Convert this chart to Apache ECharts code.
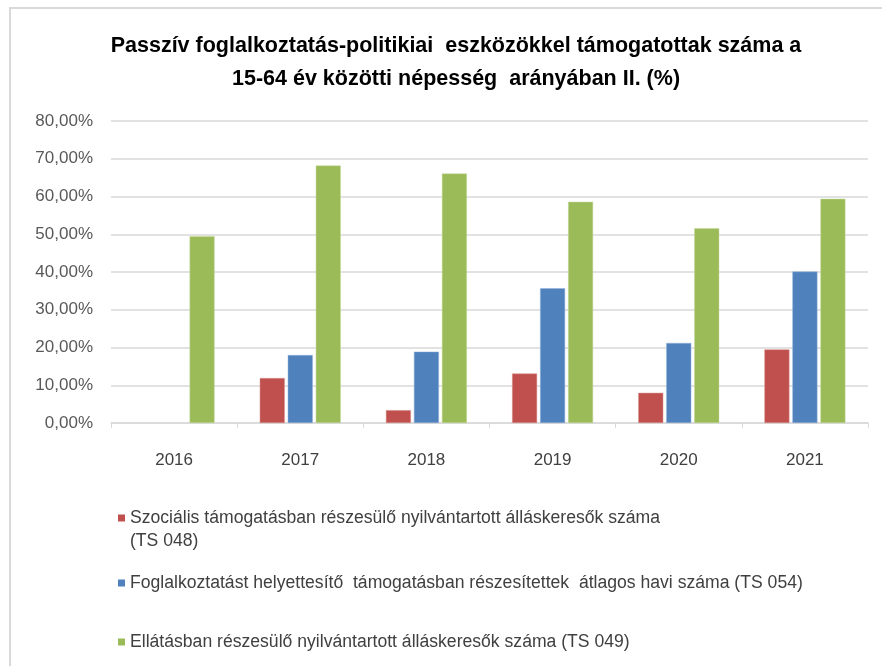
<!DOCTYPE html>
<html>
<head>
<meta charset="utf-8">
<script src="https://cdn.jsdelivr.net/npm/echarts@6/dist/echarts.min.js"></script>
<style>
  html, body { margin: 0; padding: 0; background: #fff; }
  #chart { width: 882px; height: 666px; }
</style>
</head>
<body>
<div id="chart"></div>
<script>
var years = ['2016', '2017', '2018', '2019', '2020', '2021'];
var szocialis = [null, 11.9, 3.4, 13.1, 8.0, 19.5];
var foglalkoztatast = [null, 18.0, 18.9, 35.7, 21.2, 40.1];
var ellatasban = [49.5, 68.2, 66.1, 58.6, 51.6, 59.4];

var name1 = 'Szociális támogatásban részesülő nyilvántartott álláskeresők száma (TS 048)';
var name2 = 'Foglalkoztatást helyettesítő  támogatásban részesítettek  átlagos havi száma (TS 054)';
var name3 = 'Ellátásban részesülő nyilvántartott álláskeresők száma (TS 049)';

var font = 'Liberation Sans';
var legendFont = {
    fontFamily: font,
    fontSize: 17.6,
    color: '#404040'
};

function legendOf(name, top) {
    return {
        data: [name],
        left: 118,
        top: top,
        padding: 0,
        icon: 'rect',
        itemWidth: 7,
        itemHeight: 7,
        itemGap: 0,
        selectedMode: false,
        itemStyle: { borderWidth: 0 },
        formatter: function (n) {
            // the second line "(TS 048)" is written below as its own text
            return n.replace(' (TS 048)', '');
        },
        textStyle: legendFont
    };
}

var option = {
    animation: false,
    backgroundColor: '#fff',
    title: {
        text: 'Passzív foglalkoztatás-politikiai  eszközökkel támogatottak száma a\n15-64 év közötti népesség  arányában II. (%)',
        left: 451,
        textAlign: 'center',
        top: 25,
        textStyle: {
            fontFamily: font,
            fontSize: 21.5,
            fontWeight: 'bold',
            color: '#000',
            lineHeight: 33
        }
    },
    graphic: [{
        type: 'polyline',
        shape: { points: [[10, 666], [10, 8], [882, 8]] },
        style: { stroke: '#d9d9d9', lineWidth: 2, fill: null },
        silent: true
    }, {
        type: 'text',
        left: 130,
        top: 532,
        style: {
            text: '(TS 048)',
            font: '17.6px "Liberation Sans"',
            fill: '#404040'
        },
        silent: true
    }],
    legend: [
        legendOf(name1, 509),
        legendOf(name2, 574),
        legendOf(name3, 633)
    ],
    grid: {
        left: 111,
        right: 14,
        top: 121,
        bottom: 243
    },
    xAxis: {
        type: 'category',
        data: years,
        axisLine: { lineStyle: { color: '#d9d9d9', width: 1.5 } },
        axisTick: { show: true, length: 5, lineStyle: { color: '#d9d9d9' } },
        axisLabel: {
            margin: 29,
            fontFamily: font,
            fontSize: 17,
            color: '#404040'
        }
    },
    yAxis: {
        type: 'value',
        min: 0,
        max: 80,
        interval: 10,
        axisLine: { show: false },
        axisTick: { show: false },
        splitLine: { lineStyle: { color: '#d9d9d9', width: 1.5 } },
        axisLabel: {
            margin: 18,
            fontFamily: font,
            fontSize: 17,
            color: '#595959',
            formatter: function (v) {
                return v.toFixed(2).replace('.', ',') + '%';
            }
        }
    },
    series: [
        {
            name: name1,
            type: 'bar',
            data: szocialis,
            barWidth: 25,
            barGap: '12%',
            itemStyle: { color: '#C0504D', borderColor: '#d9908e', borderWidth: 0.5 }
        },
        {
            name: name2,
            type: 'bar',
            data: foglalkoztatast,
            barWidth: 25,
            barGap: '12%',
            itemStyle: { color: '#4F81BD', borderColor: '#93b1d8', borderWidth: 0.5 }
        },
        {
            name: name3,
            type: 'bar',
            data: ellatasban,
            barWidth: 25,
            barGap: '12%',
            itemStyle: { color: '#9BBB59', borderColor: '#c4d99a', borderWidth: 0.5 }
        }
    ]
};

var myChart = echarts.init(document.getElementById('chart'));
myChart.setOption(option);
</script>
</body>
</html>
